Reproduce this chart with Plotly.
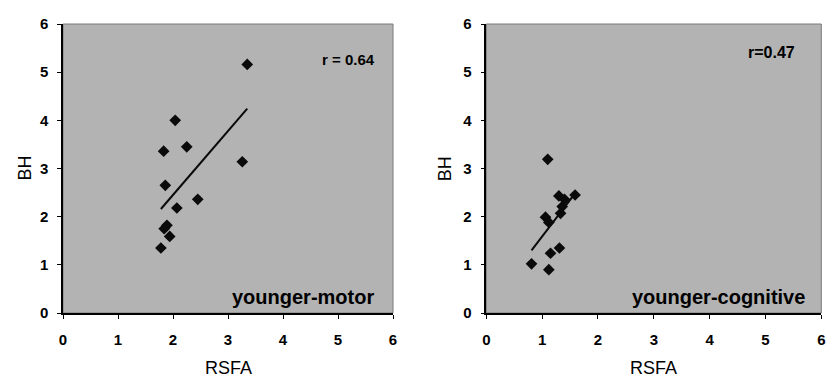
import numpy as np
import plotly.graph_objects as go

# ---- data ----
motor_rsfa = [3.35, 2.04, 2.25, 1.83, 3.26, 1.86, 2.45, 2.07, 1.89, 1.84, 1.94, 1.78]
motor_bh   = [5.16, 4.00, 3.45, 3.36, 3.14, 2.65, 2.36, 2.18, 1.82, 1.75, 1.59, 1.35]

cog_rsfa = [1.10, 1.59, 1.30, 1.40, 1.36, 1.33, 1.06, 1.12, 1.31, 1.15, 0.81, 1.12]
cog_bh   = [3.19, 2.45, 2.43, 2.36, 2.21, 2.07, 1.99, 1.88, 1.35, 1.24, 1.02, 0.90]

tick_vals = [0, 1, 2, 3, 4, 5, 6]
panel_labels = ["younger-motor", "younger-cognitive"]
r_labels = ["r = 0.64", "r=0.47"]

FONT = "Arial, Liberation Sans, sans-serif"
BG = "#b3b3b3"

# page has an 8px body margin, so the figure is sized to fill the rest
W, H = 828, 379

fig = go.Figure()

panels = [
    (motor_rsfa, motor_bh, "x", "y", [55 / W, 385 / W]),
    (cog_rsfa, cog_bh, "x2", "y2", [478.3 / W, 813.3 / W]),
]
ydom = [(H - 305) / H, (H - 16) / H]

for i, (xs, ys, xa, ya, dom) in enumerate(panels):
    fig.add_trace(go.Scatter(
        x=xs, y=ys, mode="markers", xaxis=xa, yaxis=ya,
        marker=dict(symbol="diamond", size=9, color="#0a0a0a", line=dict(width=0)),
        showlegend=False, hoverinfo="skip"))
    # linear trend line computed from the data
    k, b = np.polyfit(xs, ys, 1)
    lx = np.array([min(xs), max(xs)])
    fig.add_trace(go.Scatter(
        x=lx, y=k * lx + b, mode="lines", xaxis=xa, yaxis=ya,
        line=dict(color="#0a0a0a", width=2), showlegend=False, hoverinfo="skip"))

    sfx = "" if i == 0 else "2"
    axis_common = dict(
        range=[0, 6], tickvals=tick_vals, ticks="outside", ticklen=4,
        tickwidth=1, tickcolor="#000", showline=True, linecolor="#000",
        linewidth=1.5, showgrid=False, zeroline=False, automargin=False,
        tickfont=dict(family=FONT, size=15, color="#000", weight="bold"),
        fixedrange=True,
    )
    fig.update_layout({
        "xaxis" + sfx: dict(axis_common, domain=dom, anchor="y" + sfx,
                           ticklabelstandoff=8),
        "yaxis" + sfx: dict(axis_common, domain=ydom, anchor="x" + sfx,
                           ticklabelstandoff=6),
    })

    # gray border on top / right of plot area
    fig.add_shape(type="rect", xref=xa + " domain", yref=ya + " domain",
                  x0=0, x1=1, y0=0, y1=1, line=dict(color="#7a7a7a", width=1),
                  layer="below")

    # axis titles
    fig.add_annotation(text="RSFA", xref=xa + " domain", yref=ya + " domain",
                       x=0.5, y=-0.19, showarrow=False, xanchor="center", yanchor="middle",
                       font=dict(family=FONT, size=18, color="#000"))
    fig.add_annotation(text="BH", xref=xa + " domain", yref=ya + " domain",
                       x=-0.118 if i == 0 else -0.124, y=0.5, showarrow=False,
                       textangle=-90, xanchor="center", yanchor="middle",
                       font=dict(family=FONT, size=18, color="#000"))
    # in-plot labels
    fig.add_annotation(text=panel_labels[i], xref=xa + " domain", yref=ya + " domain",
                       x=0.948 if i == 0 else 0.957, y=0.055, showarrow=False,
                       xanchor="right", yanchor="middle",
                       font=dict(family=FONT, size=20, color="#000", weight="bold"))
    fig.add_annotation(text=r_labels[i], xref=xa + " domain", yref=ya + " domain",
                       x=0.952 if i == 0 else 0.928, y=0.878 if i == 0 else 0.90,
                       showarrow=False, xanchor="right", yanchor="middle",
                       font=dict(family=FONT, size=15 if i == 0 else 16,
                                 color="#000", weight="bold"))

fig.update_layout(
    width=W, height=H,
    margin=dict(l=0, r=0, t=0, b=0),
    paper_bgcolor="white", plot_bgcolor=BG,
)

fig.write_html("out.html")
